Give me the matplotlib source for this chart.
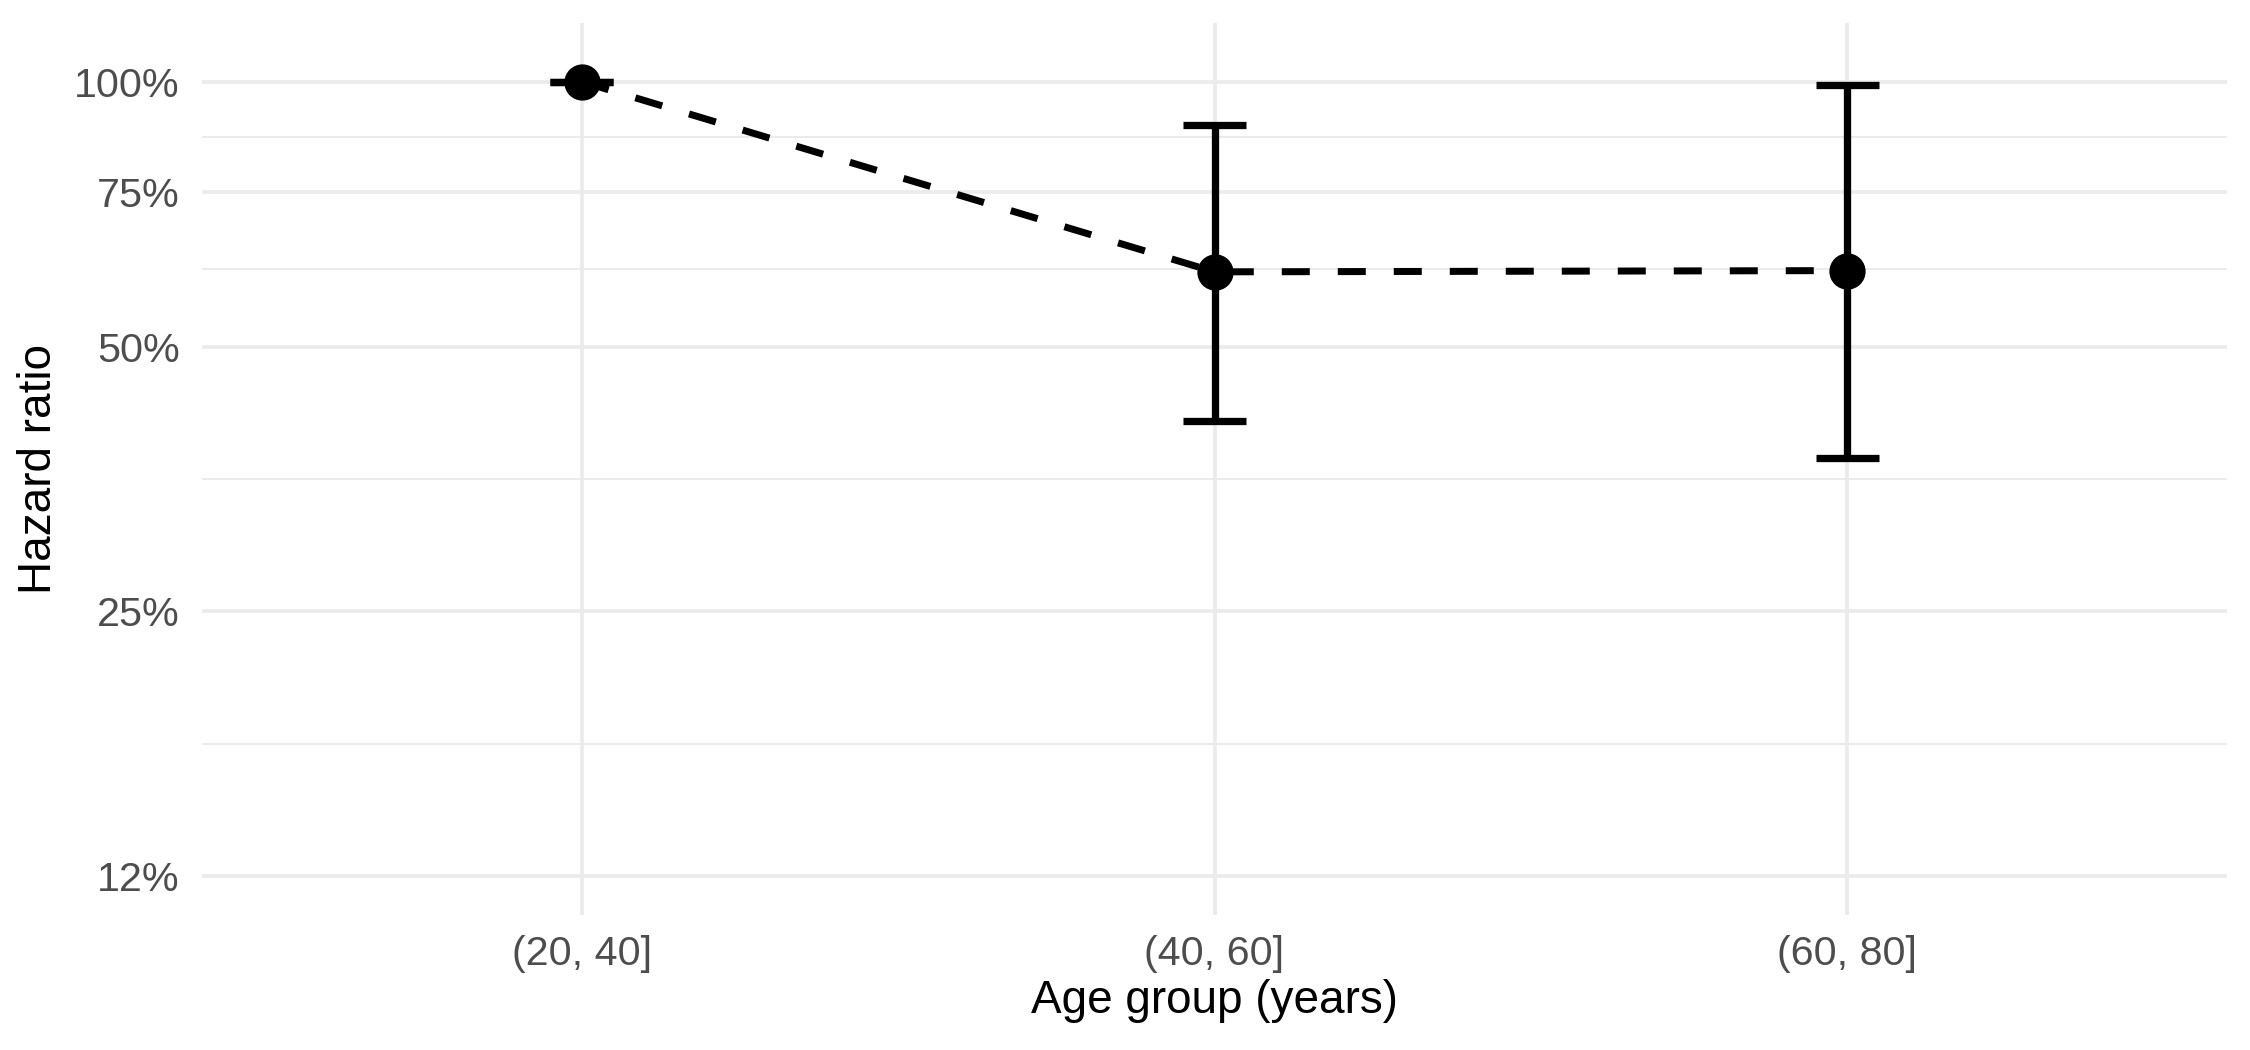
import numpy as np
import matplotlib
matplotlib.use("Agg")
import matplotlib.pyplot as plt

# ---- data ----
categories = ["(20, 40]", "(40, 60]", "(60, 80]"]
hazard_ratio = [1.00, 0.608, 0.610]
ci_lower = [1.00, 0.412, 0.374]
ci_upper = [1.00, 0.894, 0.992]
y_breaks = [0.125, 0.25, 0.5, 0.75, 1.0]
y_labels = ["12%", "25%", "50%", "75%", "100%"]

plt.rcParams['font.family'] = ['Liberation Sans', 'DejaVu Sans']

fig = plt.figure(figsize=(7.5, 3.5), dpi=300)
ax = fig.add_axes([0.0898, 0.1286, 0.9, 0.8495])

x = np.arange(len(categories))
hr = np.array(hazard_ratio)
lo = np.array(ci_lower)
hi = np.array(ci_upper)

ax.set_yscale('log')
ax.set_ylim(0.113, 1.166)
ax.set_xlim(-0.6, len(categories) - 1 + 0.6)

# grid (ggplot theme_minimal style)
grid_col = '#EBEBEB'
ax.set_yticks(y_breaks)
ax.set_yticklabels(y_labels)
minor = [np.sqrt(a * b) for a, b in zip(y_breaks[:-1], y_breaks[1:])]
ax.set_yticks(minor, minor=True)
ax.yaxis.set_minor_formatter(matplotlib.ticker.NullFormatter())
ax.set_xticks(x)
ax.set_xticklabels(categories)
ax.grid(True, which='major', axis='both', color=grid_col, linewidth=0.89)
ax.grid(True, which='minor', axis='y', color=grid_col, linewidth=0.48)
ax.set_axisbelow(True)
for s in ax.spines.values():
    s.set_visible(False)
ax.tick_params(axis='both', which='both', length=0)
ax.tick_params(axis='y', which='major', pad=5.4, labelsize=9.9, labelcolor='#4D4D4D')
ax.tick_params(axis='x', which='major', pad=4.8, labelsize=9.9, labelcolor='#4D4D4D')

# error bars
ax.errorbar(x, hr, yerr=[hr - lo, hi - hr], fmt='none', ecolor='black',
            elinewidth=1.75, capsize=0, zorder=2)
cap_half = 0.05
ax.hlines(lo, x - cap_half, x + cap_half, colors='black', linewidth=1.75, zorder=2)
ax.hlines(hi, x - cap_half, x + cap_half, colors='black', linewidth=1.75, zorder=2)

# dashed connecting line
ax.plot(x, hr, color='black', linewidth=1.68, linestyle=(0, (4, 4)),
        dash_capstyle='butt', zorder=3)
# points
ax.plot(x, hr, 'o', color='black', markersize=7.7, zorder=4)

ax.set_xlabel("Age group (years)", fontsize=11, color='black')
ax.set_ylabel("Hazard ratio", fontsize=11, color='black')
ax.xaxis.set_label_coords(0.5, -0.0964)
ax.xaxis.label.set_va('center')
ax.yaxis.set_label_coords(-0.0805, 0.5)
ax.yaxis.label.set_va('center')

fig.savefig("out.png", dpi=300, facecolor='white')
